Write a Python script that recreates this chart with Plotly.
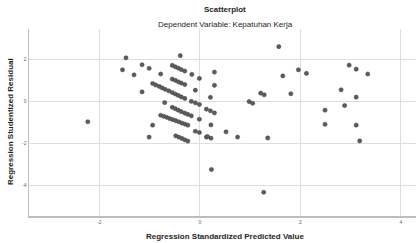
import plotly.graph_objects as go

# Regression standardized predicted value (x) and studentized residual (y)
pred = [
    -2.23, -1.47, -1.54, -1.31, -1.15, -1.01, -1.15, -0.78, -0.39,
    -0.55, -0.49, -0.43, -0.37, -0.30,
    -0.16, -0.01,
    -0.55, -0.49, -0.43, -0.37, -0.30,
    -0.09,
    -0.94, -0.88, -0.81, -0.75, -0.69, -0.62, -0.55, -0.49, -0.43, -0.37, -0.30,
    -0.17, -0.09, -0.01,
    -0.70,
    -0.55, -0.49, -0.43, -0.37, -0.30, -0.24, -0.17,
    -0.01,
    -0.78, -0.72, -0.66, -0.60, -0.54, -0.48, -0.42, -0.36, -0.30, -0.24,
    -0.94, -0.09, -0.01, -1.01,
    -0.48, -0.42, -0.36, -0.30, -0.24,
    0.13, 0.22, 0.15,
    1.57, 0.29, 0.29, 0.21, 0.13, 0.21, 0.29, 1.65, 1.81, 1.96,
    1.21, 1.28, 0.98, 1.05, 0.22, 0.52, 0.75, 1.35,
    2.12, 2.97, 3.11, 3.34, 2.81, 3.11, 2.88, 2.49, 2.49, 3.11, 3.18,
    0.23, 1.27,
]
resid = [
    -0.98, 2.06, 1.49, 1.25, 1.73, 1.56, 0.44, 1.29, 2.16,
    1.70, 1.63, 1.57, 1.50, 1.43,
    1.27, 1.08,
    1.05, 0.99, 0.92, 0.86, 0.79,
    0.52,
    0.84, 0.77, 0.70, 0.63, 0.56, 0.49, 0.41, 0.34, 0.27, 0.20, 0.13,
    -0.01, -0.08, -0.16,
    -0.07,
    -0.29, -0.36, -0.43, -0.50, -0.57, -0.63, -0.70,
    -0.86,
    -0.67, -0.72, -0.77, -0.83, -0.88, -0.93, -0.98, -1.04, -1.09, -1.14,
    -1.14, -1.43, -1.49, -1.71,
    -1.65, -1.71, -1.77, -1.84, -1.90,
    -1.71, -1.76, -1.68,
    2.59, 1.38, 0.75, 0.18, -0.38, -0.46, -0.56, 1.20, 0.35, 1.49,
    0.38, 0.30, -0.02, -0.10, -1.13, -1.46, -1.71, -1.75,
    1.32, 1.71, 1.52, 1.29, 0.54, 0.19, -0.21, -0.43, -1.10, -1.14, -1.89,
    -3.25, -4.33,
]

x_ticks = [-2, 0, 2, 4]
y_ticks = [2, 0, -2, -4]

title_text = "Scatterplot"
subtitle_text = "Dependent Variable: Kepatuhan Kerja"
x_title = "Regression Standardized Predicted Value"
y_title = "Regression Studentized Residual"

FONT = "Liberation Sans, Arial, sans-serif"
TXT = "#1e1e1e"

fig = go.Figure(
    go.Scatter(
        x=pred, y=resid, mode="markers",
        marker=dict(size=4.2, color="#5c5c5c", line=dict(color="#404040", width=0.5)),
        hoverinfo="skip",
    )
)

fig.update_layout(
    width=417, height=243, autosize=False,
    margin=dict(l=29, r=1, t=29, b=27, autoexpand=False),
    paper_bgcolor="white", plot_bgcolor="white",
    showlegend=False,
    font=dict(family=FONT, color=TXT),
)

# plot area: x 29..416 px, y 29..216 px (height 187)
def py(pix):
    return (216 - pix) / 187.0

def px(pix):
    return (pix - 29) / 387.0

fig.add_annotation(text="<b>" + title_text + "</b>", xref="paper", yref="paper",
                   x=px(225), y=py(9), showarrow=False, xanchor="center", yanchor="middle",
                   font=dict(family=FONT, size=8, color=TXT))
fig.add_annotation(text=subtitle_text, xref="paper", yref="paper",
                   x=px(225), y=py(25), showarrow=False, xanchor="center", yanchor="middle",
                   font=dict(family=FONT, size=8, color=TXT))
fig.add_annotation(text="<b>" + x_title + "</b>", xref="paper", yref="paper",
                   x=px(225), y=py(236), showarrow=False, xanchor="center", yanchor="middle",
                   font=dict(family=FONT, size=8, color=TXT))
fig.add_annotation(text="<b>" + y_title + "</b>", xref="paper", yref="paper",
                   x=px(10), y=py(122), showarrow=False, xanchor="center", yanchor="middle",
                   textangle=-90, font=dict(family=FONT, size=8, color=TXT))

fig.update_xaxes(
    range=[-3.40, 4.30], tickvals=x_ticks, ticktext=[str(v) for v in x_ticks],
    showgrid=True, gridcolor="#dedede", gridwidth=1, zeroline=False,
    showline=True, linecolor="#bdbdbd", linewidth=1.5, mirror=False,
    tickfont=dict(family=FONT, size=5, color="#666"), ticks="", automargin=False,
)
fig.update_yaxes(
    range=[-5.46, 3.43], tickvals=y_ticks, ticktext=[str(v) for v in y_ticks],
    showgrid=True, gridcolor="#dedede", gridwidth=1, zeroline=False,
    showline=True, linecolor="#bdbdbd", linewidth=1.5, mirror=False,
    tickfont=dict(family=FONT, size=5, color="#666"), ticks="", automargin=False,
)

fig.write_html(
    "out.html",
    config={"displayModeBar": False, "staticPlot": True},
    post_script="document.body.style.margin='0';document.body.style.overflow='hidden';",
)
